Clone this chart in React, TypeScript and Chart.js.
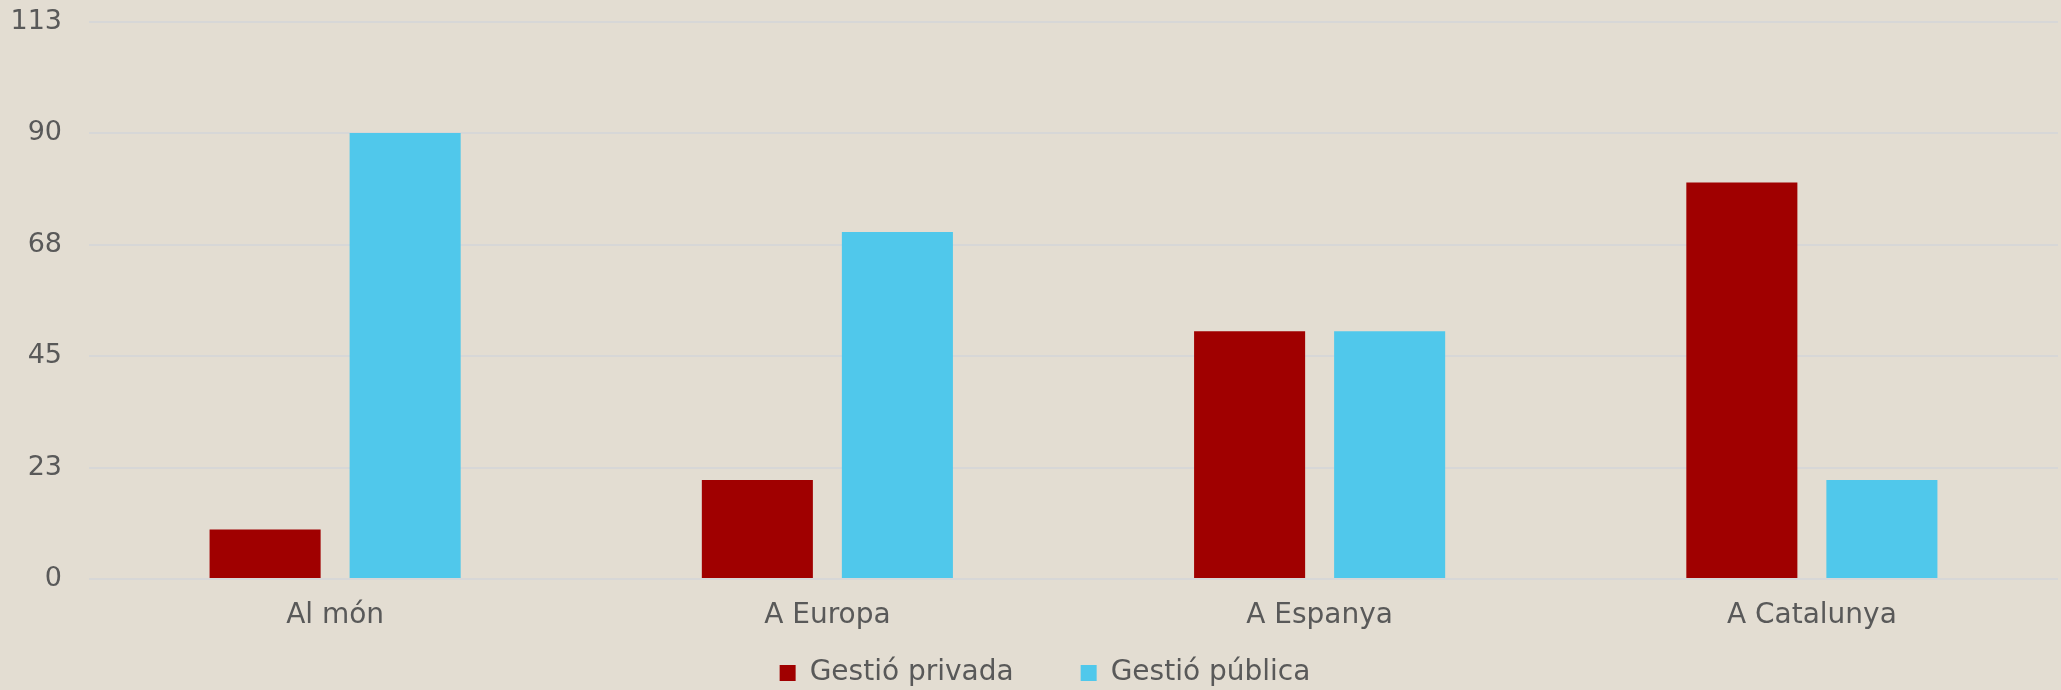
import React, { useEffect, useRef } from 'react';
import { Chart, registerables } from 'chart.js';

Chart.register(...registerables);

const categories = ['Al món', 'A Europa', 'A Espanya', 'A Catalunya'];
const seriesNames = ['Gestió privada', 'Gestió pública'];
const gestioPrivada = [10, 20, 50, 80];
const gestioPublica = [90, 70, 50, 20];
const yMin = 0;
const yMax = 112.5;
const yStep = 22.5;

const BG = '#E3DDD2';
const RED = '#A00000';
const BLUE = '#50C8EB';
const TEXT = '#595959';
const GRID = '#D7D7D7';
const FONT = '"DejaVu Sans", sans-serif';

const layoutTweaks = {
  id: 'layoutTweaks',
  afterLayout(chart: any) {
    const x = chart.scales.x;
    if (x) x.bottom = chart.height;
    if (chart.legend) chart.legend.left += 32;
  },
};

export default function App() {
  const ref = useRef<HTMLCanvasElement>(null);

  useEffect(() => {
    document.body.style.background = BG;
    const chart = new Chart(ref.current as HTMLCanvasElement, {
      type: 'bar',
      data: {
        labels: categories,
        datasets: [
          { label: seriesNames[0], data: gestioPrivada, backgroundColor: RED, borderWidth: 0 },
          { label: seriesNames[1], data: gestioPublica, backgroundColor: BLUE, borderWidth: 0 },
        ],
      },
      plugins: [layoutTweaks],
      options: {
        responsive: false,
        animation: false,
        devicePixelRatio: 1,
        layout: { padding: { top: 21.5, right: 3, left: 0, bottom: 0 } },
        datasets: {
          bar: { barPercentage: 0.793, categoryPercentage: 0.569 },
        },
        plugins: {
          tooltip: { enabled: false },
          legend: {
            position: 'bottom',
            maxHeight: 98,
            labels: {
              color: TEXT,
              font: { family: FONT, size: 28 },
              boxWidth: 16,
              boxHeight: 16,
              padding: 67,
            },
          },
        },
        scales: {
          x: {
            grid: { display: false, drawTicks: false },
            border: { display: false },
            ticks: {
              color: TEXT,
              font: { family: FONT, size: 28 },
              padding: 20,
              maxRotation: 0,
              autoSkip: false,
            },
            afterFit: (s: any) => {
              s.height = 13;
            },
          },
          y: {
            min: yMin,
            max: yMax,
            grid: { color: GRID, lineWidth: 2, drawTicks: true, tickLength: 27, tickColor: 'rgba(0,0,0,0)' },
            border: { display: false },
            ticks: {
              stepSize: yStep,
              color: TEXT,
              font: { family: FONT, size: 27 },
              padding: 0,
              callback: (v: any) => String(Math.round(Number(v))),
            },
            afterFit: (s: any) => {
              s.width = 89;
            },
          },
        },
      },
    });
    return () => chart.destroy();
  }, []);

  return (
    <div style={{ position: 'fixed', left: 0, top: 0, width: 2061, height: 690, background: BG }}>
      <canvas ref={ref} width={2061} height={690} style={{ display: 'block', width: 2061, height: 690 }} />
    </div>
  );
}
